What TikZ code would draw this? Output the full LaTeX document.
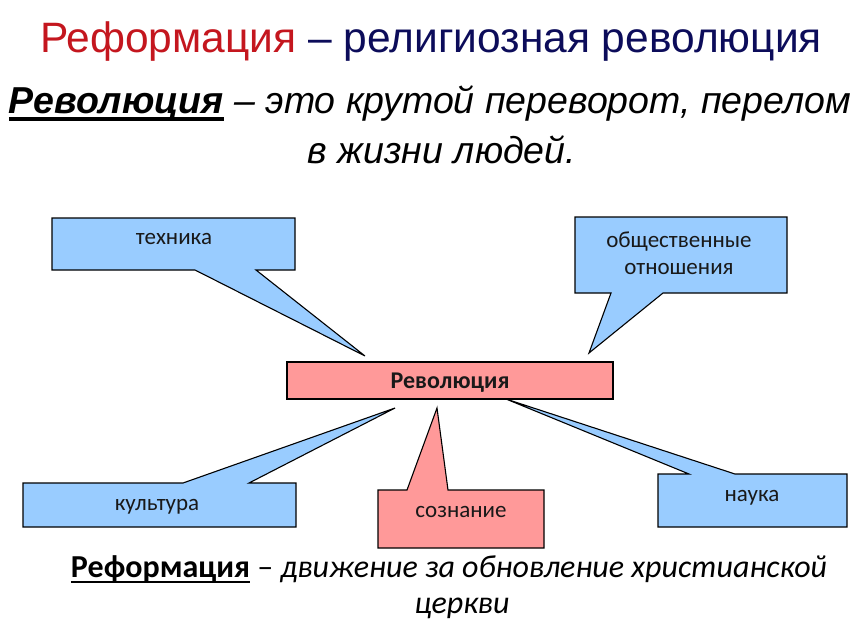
\documentclass[tikz,border=0pt]{standalone}
\usepackage{fontspec}
\setmainfont{Liberation Sans}
\newfontfamily\calfont{Carlito}
\definecolor{titlered}{RGB}{196,22,30}
\definecolor{titleblue}{RGB}{12,12,90}
\definecolor{callblue}{RGB}{153,204,255}
\definecolor{callpink}{RGB}{255,153,153}
\newcommand\myul[3]{\setbox0\hbox{#3}\rlap{\rule[#1]{\wd0}{#2}}\box0\relax}
\begin{document}
\begin{tikzpicture}[x=1pt,y=-1pt,
  callout/.style={draw=black,line width=1.1pt,line join=miter},
  blueco/.style={callout,fill=callblue},
  pinkco/.style={callout,fill=callpink},
  ctext/.style={inner sep=0pt,anchor=base,font=\calfont\fontsize{23}{27}\selectfont,text=black!90},
  ]
\useasboundingbox[fill=white] (0,0) rectangle (862,630);
% title
\node[anchor=base,inner sep=0pt] (title) at (431,52)
  {\fontsize{42.5}{48}\selectfont\textcolor{titlered}{Реформация} \textcolor{titleblue}{– религиозная революция}};
\node[anchor=base,inner sep=0pt] (def1) at (430,113)
  {\fontsize{37.5}{44}\selectfont\myul{-8pt}{4pt}{\textbf{\textit{Революция}}} \textit{– это крутой переворот, перелом}};
\node[anchor=base,inner sep=0pt] (def2) at (442,163)
  {\fontsize{37.5}{44}\selectfont\textit{в жизни людей.}};
% callouts
\draw[blueco] (52,218) -- (295,218) -- (295,270) -- (256,270) -- (365,356) -- (195,270) -- (52,270) -- cycle;
\draw[blueco] (575,217) -- (787,217) -- (787,293) -- (663,293) -- (589,353) -- (611,293) -- (575,293) -- cycle;
\draw[blueco] (23,483) -- (183,483) -- (395,408) -- (249,483) -- (296,483) -- (296,527) -- (23,527) -- cycle;
\draw[blueco] (658,474) -- (689,474) -- (506,399) -- (735,474) -- (847,474) -- (847,527) -- (658,527) -- cycle;
\draw[pinkco] (378,490) -- (407,490) -- (437,408) -- (448,490) -- (544,490) -- (544,548) -- (378,548) -- cycle;
\draw[pinkco] (287,362) rectangle (613,399);
% callout texts
\node[ctext] (tech) at (174,244) {техника};
\node[ctext] (obsh1) at (679,247) {общественные};
\node[ctext] (obsh2) at (679,274) {отношения};
\node[ctext,font=\calfont\bfseries\fontsize{24}{28}\selectfont] (rev) at (450,388) {Революция};
\node[ctext] (soz) at (461,517) {сознание};
\node[ctext] (kult) at (157,510) {культура};
\node[ctext] (nauka) at (752,501) {наука};
% bottom definition
\node[anchor=base,inner sep=0pt] (ref1) at (449,577)
  {\calfont\fontsize{32}{38}\selectfont\myul{-6pt}{2.5pt}{\textbf{Реформация}} – \textit{движение за обновление христианской}};
\node[anchor=base,inner sep=0pt] (ref2) at (462,613)
  {\calfont\fontsize{32}{38}\selectfont\textit{церкви}};
\end{tikzpicture}
\end{document}
